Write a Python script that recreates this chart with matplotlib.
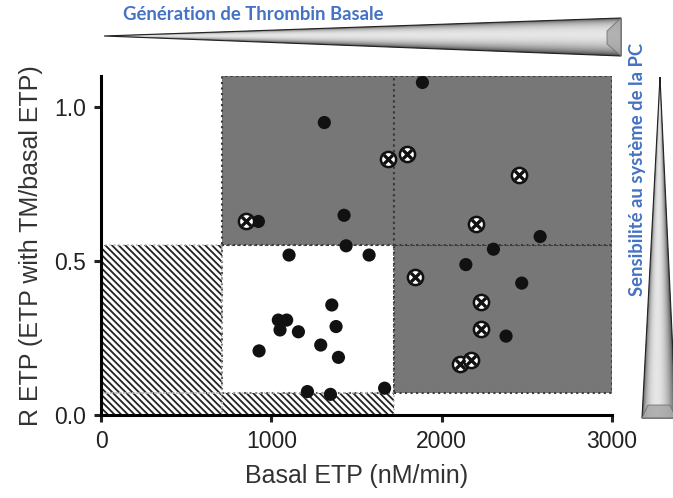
import numpy as np
import matplotlib
matplotlib.use("Agg")
import matplotlib.pyplot as plt
from matplotlib.patches import Rectangle, Polygon

# data
filled_x = [1887, 1311, 924, 1427, 1439, 1104, 1574, 2578, 2304, 2142, 2470, 2378,
            1355, 1041, 1090, 1051, 1159, 1380, 1290, 928, 1394, 1212, 1347, 1665]
filled_y = [1.079, 0.949, 0.628, 0.648, 0.549, 0.519, 0.519, 0.579, 0.538, 0.488, 0.428, 0.256,
            0.357, 0.308, 0.308, 0.276, 0.270, 0.287, 0.227, 0.208, 0.187, 0.076, 0.067, 0.087]
crossed_x = [850, 1687, 1795, 2456, 2202, 1841, 2232, 2233, 2108, 2170]
crossed_y = [0.628, 0.830, 0.847, 0.779, 0.619, 0.448, 0.368, 0.278, 0.166, 0.179]

# region boundaries
x_edges = [0, 708, 1720, 3000]
y_edges = [0, 0.07, 0.55, 1.10]
# cell style: (col, row) -> kind
cells = {
    (0, 0): "hatch", (0, 1): "hatch", (1, 0): "hatch",
    (1, 1): "white", (1, 2): "gray", (2, 1): "gray", (2, 2): "gray",
}

x_ticks = [0, 1000, 2000, 3000]
y_ticks = [0.0, 0.5, 1.0]

W, H = 673, 498
plt.rcParams['font.family'] = ['Liberation Sans', 'DejaVu Sans']
plt.rcParams['hatch.linewidth'] = 1.3
plt.rcParams['hatch.color'] = '#222222'

fig = plt.figure(figsize=(W / 100, H / 100), dpi=100)
ax = fig.add_axes([101 / W, 1 - 415 / H, 511 / W, 339 / H])

gray = '#777777'
for (c, r), kind in cells.items():
    x0, x1 = x_edges[c], x_edges[c + 1]
    y0, y1 = y_edges[r], y_edges[r + 1]
    if kind == "gray":
        ax.add_patch(Rectangle((x0, y0), x1 - x0, y1 - y0, facecolor=gray,
                               edgecolor='#3a3a3a', lw=1.5, ls=':', zorder=1))
    elif kind == "hatch":
        ax.add_patch(Rectangle((x0, y0), x1 - x0, y1 - y0, facecolor='white',
                               edgecolor='#222222', hatch='\\' * 5, lw=0, zorder=1))
        ax.add_patch(Rectangle((x0, y0), x1 - x0, y1 - y0, fill=False,
                               edgecolor='#bbbbbb', lw=1.2, ls=':', zorder=1.5))
    else:
        ax.add_patch(Rectangle((x0, y0), x1 - x0, y1 - y0, facecolor='white',
                               edgecolor='#555555', lw=1.5, ls=':', zorder=1))

ax.scatter(filled_x, filled_y, s=90, c='#111111', edgecolors='none', zorder=3)
ax.scatter(crossed_x, crossed_y, s=120, facecolors='white', edgecolors='#111111',
           linewidths=1.8, zorder=3)
ax.scatter(crossed_x, crossed_y, s=45, marker='x', c='#111111', linewidths=2.4, zorder=4)

ax.set_xlim(0, 3000)
ax.set_ylim(0, 1.10)
ax.set_xticks(x_ticks)
ax.set_yticks(y_ticks)
ax.set_yticklabels(['0.0', '0.5', '1.0'])
ax.spines['top'].set_visible(False)
ax.spines['right'].set_visible(False)
for s in ['left', 'bottom']:
    ax.spines[s].set_linewidth(2.2)
ax.tick_params(width=2.2, length=5, labelsize=16.5, pad=6, colors='#222222')
ax.set_xlabel('Basal ETP (nM/min)', fontsize=18, color='#333333', labelpad=8)
ax.set_ylabel('R ETP (ETP with TM/basal ETP)', fontsize=18, color='#333333', labelpad=8)

# overlay in pixel coordinates for the wedges and the blue labels
ov = fig.add_axes([0, 0, 1, 1], zorder=-1)
ov.set_xlim(0, W)
ov.set_ylim(H, 0)
ov.axis('off')


def wedge(pts, across_axis, bevel):
    poly = Polygon(pts, closed=True, facecolor='none', edgecolor='none')
    ov.add_patch(poly)
    xs = [p[0] for p in pts]
    ys = [p[1] for p in pts]
    x0, x1, y0, y1 = min(xs), max(xs), min(ys), max(ys)
    yy, xx = np.mgrid[y0:y1:200j, x0:x1:200j]
    if across_axis == 'y':
        # top and bottom edge of the horizontal wedge at each x
        t = (xx - pts[0][0]) / (pts[1][0] - pts[0][0])
        top = pts[0][1] + t * (pts[1][1] - pts[0][1])
        bot = pts[0][1] + t * (pts[2][1] - pts[0][1])
        u = np.clip((yy - top) / np.maximum(bot - top, 1e-6), 0, 1)
    else:
        t = (yy - pts[0][1]) / (pts[1][1] - pts[0][1])
        lft = pts[0][0] + t * (pts[1][0] - pts[0][0])
        rgt = pts[0][0] + t * (pts[2][0] - pts[0][0])
        u = np.clip((xx - lft) / np.maximum(rgt - lft, 1e-6), 0, 1)
    val = 0.15 + 0.75 * np.sin(np.pi * u ** 0.8) ** 0.5
    img = ov.imshow(val, extent=(x0, x1, y1, y0), cmap='gray', vmin=0, vmax=1,
                    aspect='auto', interpolation='bilinear')
    img.set_clip_path(poly)
    ov.add_patch(Polygon(pts, closed=True, facecolor='none', edgecolor='#222222', lw=0.8))
    ov.add_patch(Polygon(bevel, closed=True, facecolor='#a8a8a8', edgecolor='#666666',
                         lw=0.6, alpha=0.85))


wedge([(104, 36), (621, 18), (621, 56)], 'y',
      [(607, 31), (621, 18), (621, 56), (607, 44)])
wedge([(660, 77), (642, 418), (676, 418)], 'x',
      [(642, 418), (648, 405), (670, 405), (676, 418)])

ov.text(253, 14, 'Génération de Thrombin Basale', fontsize=13.3, fontweight='bold',
        color='#4472C4', family=['Lato', 'DejaVu Sans'], ha='center', va='center')
ov.text(638, 169, 'Sensibilité au système de la PC', fontsize=13.3, fontweight='bold',
        color='#4472C4', family=['Lato', 'DejaVu Sans'], ha='center', va='center',
        rotation=90)

fig.savefig('out.png', dpi=100)
